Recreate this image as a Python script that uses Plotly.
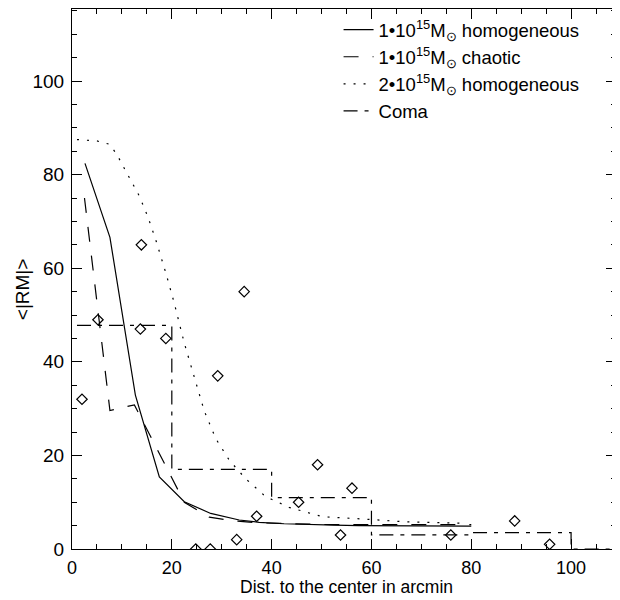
import plotly.graph_objects as go

# Diamonds: observed data points
obs_x = [2.0, 5.2, 13.9, 13.7, 18.8, 24.8, 27.7, 29.2, 33.0, 34.5, 37.0, 45.4, 49.2, 53.8, 56.1, 75.9, 88.7, 95.7]
obs_y = [32, 49, 65, 47, 45, 0, 0, 37, 2, 55, 7, 10, 18, 3, 13, 3, 6, 1]

# 1e15 Msun homogeneous (solid)
hom1_x = [2.6, 7.6, 12.7, 17.5, 22.5, 27.8, 33.5, 37.5, 42.5, 47.5, 52.5, 57.5, 62.5, 67.5, 72.5, 80.0]
hom1_y = [82.4, 66.6, 32.9, 15.4, 10.1, 7.6, 6.2, 5.7, 5.4, 5.2, 5.1, 5.0, 5.0, 5.0, 4.9, 4.9]

# 1e15 Msun chaotic (long dashed)
cha_x = [2.5, 7.6, 12.5, 17.5, 22.5, 27.5, 32.5, 37.5, 42.5, 47.5, 52.5, 57.5, 62.5, 67.5, 72.5, 80.0]
cha_y = [75.0, 29.6, 30.8, 20.5, 10.0, 6.8, 6.0, 5.6, 5.4, 5.3, 5.2, 5.2, 5.2, 5.2, 5.2, 5.2]

# 2e15 Msun homogeneous (dotted)
hom2_x = [1.0, 5.0, 7.5, 9.0, 10.0, 11.2, 12.5, 13.5, 15.2, 16.8, 18.8, 20.5, 22.5, 24.5, 26.5, 28.8,
          31.5, 34.8, 38.8, 43.5, 50.2, 60.0, 66.8, 79.0]
hom2_y = [87.5, 87.2, 86.5, 84.3, 82.3, 80.0, 77.5, 75.4, 71.0, 66.0, 59.0, 52.5, 44.0, 36.8, 29.5, 23.6,
          19.0, 15.0, 11.2, 8.9, 6.9, 6.3, 5.8, 5.5]

# Coma (dash-dot step function)
coma_x = [1.0, 20.0, 40.0, 60.0, 80.0, 100.0, 110.0]
coma_y = [47.8, 17.0, 11.0, 3.0, 3.5, 0.0, 0.0]

names = ["1•10<sup>15</sup>M<sub>⊙</sub> homogeneous",
         "1•10<sup>15</sup>M<sub>⊙</sub> chaotic",
         "2•10<sup>15</sup>M<sub>⊙</sub> homogeneous",
         "Coma"]
x_title = "Dist. to the center in arcmin"
y_title = "&lt;|RM|&gt;"

FONT = "Liberation Sans"

fig = go.Figure()
fig.add_trace(go.Scatter(x=hom1_x, y=hom1_y, mode="lines", name=names[0],
                         line=dict(color="black", width=1.2, dash="solid")))
fig.add_trace(go.Scatter(x=cha_x, y=cha_y, mode="lines", name=names[1],
                         line=dict(color="black", width=1.2, dash="15px,14px")))
fig.add_trace(go.Scatter(x=hom2_x, y=hom2_y, mode="lines", name=names[2],
                         line=dict(color="black", width=1.2, dash="2px,8px")))
fig.add_trace(go.Scatter(x=coma_x, y=coma_y, mode="lines", name=names[3], line_shape="hv",
                         line=dict(color="black", width=1.2, dash="14px,7px,4px,7px")))
fig.add_trace(go.Scatter(x=obs_x, y=obs_y, mode="markers", showlegend=False,
                         marker=dict(symbol="diamond-open", size=8, color="black",
                                     line=dict(color="black", width=1.2))))

axis_common = dict(showline=True, linecolor="black", linewidth=1, mirror="ticks",
                   ticks="inside", ticklen=10, tickcolor="black", tickwidth=1,
                   showgrid=False, zeroline=False, automargin=False,
                   minor=dict(ticks="inside", ticklen=5, tickcolor="black", tickwidth=1, showgrid=False))

fig.update_xaxes(range=[0, 109], dtick=20, tick0=0, minor_dtick=5,
                 tickfont=dict(family=FONT, size=18, color="black"),
                 ticklabelstandoff=2, **axis_common)
fig.update_yaxes(range=[0, 115.4], dtick=20, tick0=0, minor_dtick=5,
                 tickfont=dict(family=FONT, size=19, color="black"),
                 ticklabelstandoff=3, **axis_common)

# axis titles as paper-anchored annotations for precise placement
fig.add_annotation(text=x_title, xref="paper", yref="paper", x=0.505, y=-0.0935,
                   xanchor="center", yanchor="bottom", showarrow=False,
                   font=dict(family=FONT, size=17.5, color="black"))
fig.add_annotation(text=y_title, xref="paper", yref="paper", x=-0.092, y=0.481,
                   xanchor="center", yanchor="middle", textangle=-90, showarrow=False,
                   font=dict(family=FONT, size=19, color="black"))

# The page body adds an 8px offset, so the figure is sized to the visible area.
fig.update_layout(
    width=612, height=592,
    margin=dict(l=64, r=4, t=1, b=51),
    paper_bgcolor="white", plot_bgcolor="white",
    font=dict(family=FONT, color="black"),
    legend=dict(x=0.49, y=0.996, xanchor="left", yanchor="top",
                font=dict(family=FONT, size=18.5, color="black"),
                bgcolor="rgba(0,0,0,0)", borderwidth=0, tracegroupgap=0),
)

fig.write_html("out.html")
